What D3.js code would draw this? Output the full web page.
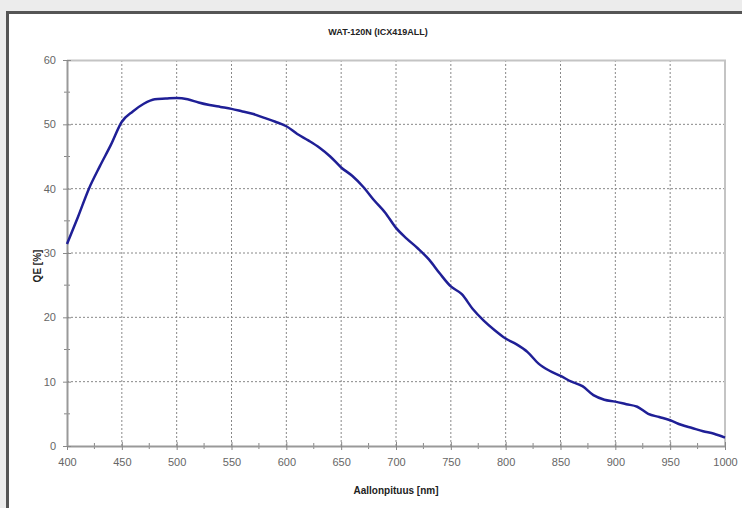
<!DOCTYPE html>
<html>
<head>
<meta charset="utf-8">
<script src="https://cdn.jsdelivr.net/npm/d3@7"></script>
<style>
  body { margin: 0; background: #ececec; }
  svg { display: block; }
  .tick text { font-family: Arial, "Liberation Sans", sans-serif; font-size: 11px; fill: #666; }
  .axis-title { font-family: Arial, "Liberation Sans", sans-serif; font-weight: bold; font-size: 10px; fill: #222; }
</style>
</head>
<body>
<svg id="chart"></svg>
<script>
// wavelength (nm) and quantum efficiency (%)
const wavelength = [400, 410, 420, 430, 440, 450, 460, 470, 480, 490, 500, 510, 520, 530, 540, 550,
  560, 570, 580, 590, 600, 610, 620, 630, 640, 650, 660, 670, 680, 690, 700, 710, 720, 730, 740,
  750, 760, 770, 780, 790, 800, 810, 820, 830, 840, 850, 860, 870, 880, 890, 900, 910, 920, 930,
  940, 950, 960, 970, 980, 990, 1000];
const qe = [31.4, 35.6, 40.0, 43.5, 46.8, 50.4, 52.0, 53.2, 53.9, 54.0, 54.1, 53.9, 53.4, 53.0, 52.7, 52.4,
  52.0, 51.6, 51.0, 50.4, 49.7, 48.5, 47.5, 46.4, 45.0, 43.3, 42.0, 40.3, 38.2, 36.3, 33.9, 32.2, 30.7, 29.0, 26.8,
  24.8, 23.6, 21.3, 19.5, 18.0, 16.7, 15.8, 14.6, 12.8, 11.7, 10.9, 10.0, 9.3, 7.9, 7.2, 6.9, 6.5, 6.1, 5.0,
  4.5, 4.0, 3.3, 2.8, 2.3, 1.9, 1.3];
const xTicks = [400, 450, 500, 550, 600, 650, 700, 750, 800, 850, 900, 950, 1000];
const yTicks = [0, 10, 20, 30, 40, 50, 60];

const width = 742, height = 508;
const margin = { top: 60, right: 17, bottom: 62, left: 67 };
const innerW = width - margin.left - margin.right;
const innerH = height - margin.top - margin.bottom;

const svg = d3.select('#chart').attr('width', width).attr('height', height);

// outer frame
svg.append('rect').attr('width', width).attr('height', height).attr('fill', '#ececec');
svg.append('rect')
  .attr('x', 7.5).attr('y', 12.5)
  .attr('width', width + 20).attr('height', height + 20)
  .attr('fill', '#fff')
  .attr('stroke', '#555')
  .attr('stroke-width', 3);

const chart = svg.append('g').attr('transform', `translate(${margin.left},${margin.top})`);

const x = d3.scaleLinear().domain([400, 1000]).range([0, innerW]);
const y = d3.scaleLinear().domain([0, 60]).range([innerH, 0]);

// grid
chart.append('g').selectAll('line')
  .data(yTicks.slice(1, -1))
  .join('line')
  .attr('x1', 0).attr('x2', innerW)
  .attr('y1', d => y(d)).attr('y2', d => y(d))
  .attr('stroke', '#888').attr('stroke-width', 1).attr('stroke-dasharray', '2,2');
chart.append('g').selectAll('line')
  .data(xTicks.slice(1, -1))
  .join('line')
  .attr('y1', 0).attr('y2', innerH)
  .attr('x1', d => x(d)).attr('x2', d => x(d))
  .attr('stroke', '#888').attr('stroke-width', 1).attr('stroke-dasharray', '2,2');

// plot border (top / right)
chart.append('path')
  .attr('d', `M0,0.5H${innerW}V${innerH}`)
  .attr('fill', 'none').attr('stroke', '#c4c4c4').attr('stroke-width', 2);

// minor ticks
const minorX = d3.range(425, 1000, 50);
const minorY = d3.range(5, 60, 10);
chart.append('g').selectAll('line').data(minorX).join('line')
  .attr('x1', d => x(d)).attr('x2', d => x(d))
  .attr('y1', innerH - 3).attr('y2', innerH + 3)
  .attr('stroke', '#888');
chart.append('g').selectAll('line').data(minorY).join('line')
  .attr('y1', d => y(d)).attr('y2', d => y(d))
  .attr('x1', -3).attr('x2', 3)
  .attr('stroke', '#888');

// axes
const xAxis = d3.axisBottom(x).tickValues(xTicks).tickFormat(d3.format('d'))
  .tickSizeInner(4).tickSizeOuter(0).tickPadding(8);
const yAxis = d3.axisLeft(y).tickValues(yTicks).tickSizeInner(4).tickSizeOuter(0).tickPadding(7);

const xAxisG = chart.append('g').attr('transform', `translate(0,${innerH})`).call(xAxis);
const yAxisG = chart.append('g').call(yAxis);
[xAxisG, yAxisG].forEach(g => {
  g.select('.domain').attr('stroke', '#999').attr('stroke-width', 2);
  g.selectAll('.tick line').attr('stroke', '#888');
});
xAxisG.selectAll('.tick line').attr('y1', -4);
yAxisG.selectAll('.tick line').attr('x1', 4);

// curve
const line = d3.line().x((d, i) => x(wavelength[i])).y(d => y(d)).curve(d3.curveMonotoneX);
chart.append('path')
  .datum(qe)
  .attr('d', line)
  .attr('fill', 'none')
  .attr('stroke', '#1f1f96')
  .attr('stroke-width', 2.5);

// titles
svg.append('text')
  .attr('class', 'axis-title')
  .attr('x', 378).attr('y', 35)
  .attr('text-anchor', 'middle')
  .style('font-size', '9px')
  .text('WAT-120N (ICX419ALL)');
svg.append('text')
  .attr('class', 'axis-title')
  .attr('x', margin.left + innerW / 2).attr('y', 494)
  .attr('text-anchor', 'middle')
  .text('Aallonpituus [nm]');
svg.append('text')
  .attr('class', 'axis-title')
  .attr('transform', `translate(41,${margin.top + innerH / 2 + 13}) rotate(-90)`)
  .attr('text-anchor', 'middle')
  .text('QE [%]');
</script>
</body>
</html>
